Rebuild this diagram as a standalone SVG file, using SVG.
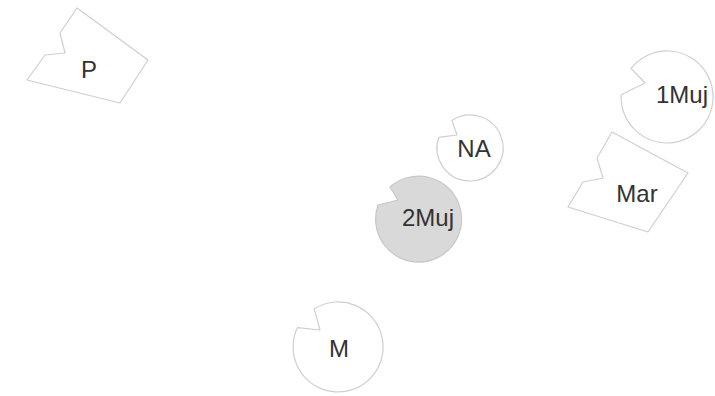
<svg xmlns="http://www.w3.org/2000/svg" width="715" height="396" viewBox="0 0 715 396">
<style>
.shape{fill:#ffffff;stroke:#cfcfcf;stroke-width:1.2;stroke-linejoin:round}
.filled{fill:#d9d9d9;stroke:#c8c8c8}
.lbl{font-family:"Liberation Sans",Arial,sans-serif;font-size:24px;fill:#333333;text-anchor:middle}
</style>
<rect width="715" height="396" fill="#ffffff"/>
<g id="connectors"></g>
<g id="node-P">
<path class="shape" d="M27,80 L45,55 L65,53 L60,33 L77,8 L148,60 L120,103 Z"/>
<text class="lbl" x="89" y="78">P</text>
</g>
<g id="node-1Muj">
<path class="shape" d="M631,68.4 A46,46 0 1 1 621.1,94.8 L645,83 Z"/>
<text class="lbl" x="682" y="103">1Muj</text>
</g>
<g id="node-Mar">
<path class="shape" d="M568,207 L583,182 L603,178 L597,158 L612,132 L688,173 L648,232 Z"/>
<text class="lbl" x="637" y="202">Mar</text>
</g>
<g id="node-NA">
<path class="shape" d="M451.9,120.4 A33,33 0 1 1 438.8,137.3 L457,135 Z"/>
<text class="lbl" x="474" y="157">NA</text>
</g>
<g id="node-2Muj">
<path class="shape filled" d="M390,187 A43,43 0 1 1 378,205 L398,200 Z"/>
<text class="lbl" x="428" y="226">2Muj</text>
</g>
<g id="node-M">
<path class="shape" d="M314.2,308.8 A45,45 0 1 1 297.4,327.7 L320,330 Z"/>
<text class="lbl" x="339" y="357">M</text>
</g>
</svg>
